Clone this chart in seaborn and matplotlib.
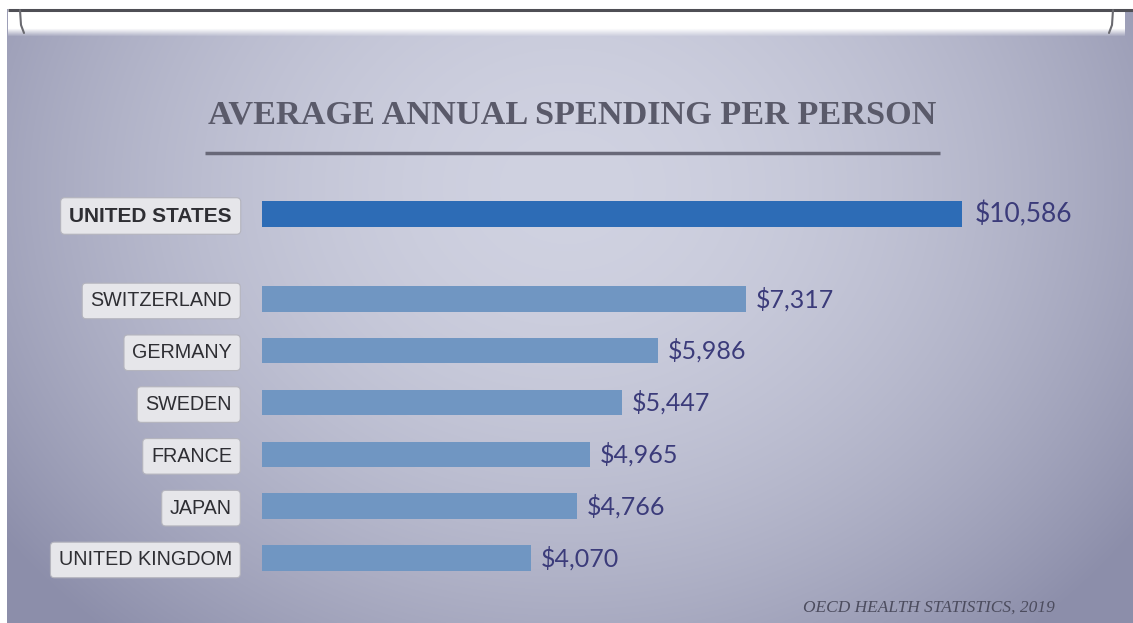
import numpy as np
import pandas as pd
import matplotlib
matplotlib.use("Agg")
import matplotlib.pyplot as plt
import seaborn as sns

# ---------------- data ----------------
countries = ["UNITED STATES", "SWITZERLAND", "GERMANY", "SWEDEN",
             "FRANCE", "JAPAN", "UNITED KINGDOM"]
spending = [10586, 7317, 5986, 5447, 4965, 4766, 4070]
title = "AVERAGE ANNUAL SPENDING PER PERSON"
source = "OECD HEALTH STATISTICS, 2019"

# ---------------- style ----------------
W, H = 1133, 623
sns.set_theme(style="white")
plt.rcParams['font.family'] = ['Liberation Sans', 'DejaVu Sans']

US_COLOR = "#2d6cb6"
OTHER_COLOR = "#7096c2"
VALUE_COLOR = "#3b3b7a"

fig = plt.figure(figsize=(W / 100, H / 100), dpi=100)

# ---------------- background (paper with vignette) ----------------
bg = fig.add_axes([0, 0, 1, 1], zorder=-10)
yy, xx = np.mgrid[0:H, 0:W]
u = xx / W
v = yy / H
d = np.sqrt(((u - 0.5) / 0.62) ** 2 + ((v - 0.3) / 0.95) ** 2)
t = np.clip(d, 0, 1) ** 1.8
center = np.array([208, 210, 225]) / 255
edge = np.array([140, 142, 170]) / 255
img = center * (1 - t[..., None]) + edge * t[..., None]
bg.imshow(img, extent=[0, W, H, 0], aspect='auto', interpolation='bilinear')

# top white lamp strip
strip = np.ones((40, 10, 4))
alpha = np.clip((36 - np.arange(40)) / 8.0, 0, 1)
strip[..., 3] = alpha[:, None]
bg.imshow(strip, extent=[8, W - 8, 40, 0], aspect='auto', interpolation='bilinear')
bg.fill_between([0, W], 0, 9, color="white", lw=0)
bg.fill_between([0, 7], 0, H, color="white", lw=0)
bg.plot([8, W], [10, 10], color="#4f4f55", lw=2.2, solid_capstyle='butt')
bg.plot([20, 21, 24], [10, 25, 33], color="#6a6a70", lw=1.5)
bg.plot([W - 20, W - 21, W - 24], [10, 25, 33], color="#6a6a70", lw=1.5)
# title underline
bg.plot([205, 940], [153, 153], color="#686878", lw=2.5, solid_capstyle='butt')
bg.set_xlim(0, W)
bg.set_ylim(H, 0)
bg.axis('off')

# ---------------- bars ----------------
gap = 0.64  # extra space below the first bar
ypos = np.arange(len(countries)) + gap * (np.arange(len(countries)) > 0)
df = pd.DataFrame({"country": countries, "spending": spending, "pos": ypos})
palette = {c: (US_COLOR if i == 0 else OTHER_COLOR) for i, c in enumerate(countries)}

px_per_unit = 51.8
top_lim, bot_lim = -0.8, 7.3
ax_top_px = 214 + top_lim * px_per_unit
ax_bot_px = 214 + bot_lim * px_per_unit
ax_left = 262
ax = fig.add_axes([ax_left / W, (H - ax_bot_px) / H,
                   (W - ax_left) / W, (ax_bot_px - ax_top_px) / H])
ax.patch.set_alpha(0)

sns.barplot(data=df, x="spending", y="pos", hue="country", palette=palette,
            orient="h", native_scale=True, width=0.49, dodge=False,
            legend=False, saturation=1, ax=ax, linewidth=0)

px_per_dollar = 0.06613
ax.set_xlim(0, (W - ax_left) / px_per_dollar)
ax.set_ylim(bot_lim, top_lim)

for i, cont in enumerate(ax.containers):
    ax.bar_label(cont, fmt=lambda val: f"${val:,.0f}", padding=9 if i == 0 else 7,
                 color=VALUE_COLOR, fontsize=19 if i == 0 else 18,
                 family=['Lato', 'DejaVu Sans'])

ax.set_yticks(ypos, countries)
ax.set_xticks([])
ax.set_xlabel("")
ax.set_ylabel("")
ax.tick_params(axis='y', length=0, pad=21.6)
for s in ax.spines.values():
    s.set_visible(False)

for i, lbl in enumerate(ax.get_yticklabels()):
    lbl.set_color("#2e2e33")
    if i == 0:
        lbl.set_fontsize(15)
        lbl.set_fontweight("bold")
    else:
        lbl.set_fontsize(14.2)
    lbl.set_bbox(dict(boxstyle="round,pad=0.42,rounding_size=0.2",
                      facecolor="#e6e6ea", edgecolor="#b4b4bd", linewidth=0.8))

# ---------------- texts ----------------
fig.text(572.5 / W, 1 - 124 / H, title, ha="center", va="baseline",
         family=['Liberation Serif', 'DejaVu Serif'], fontsize=24.7,
         fontweight='bold', color="#5a5a6a")
fig.text(1055 / W, 1 - 612 / H, source, ha="right", va="baseline",
         family=['Liberation Serif', 'DejaVu Serif'], style="italic",
         fontsize=12.5, color="#4c4c5e")

fig.savefig("out.png", dpi=100)
